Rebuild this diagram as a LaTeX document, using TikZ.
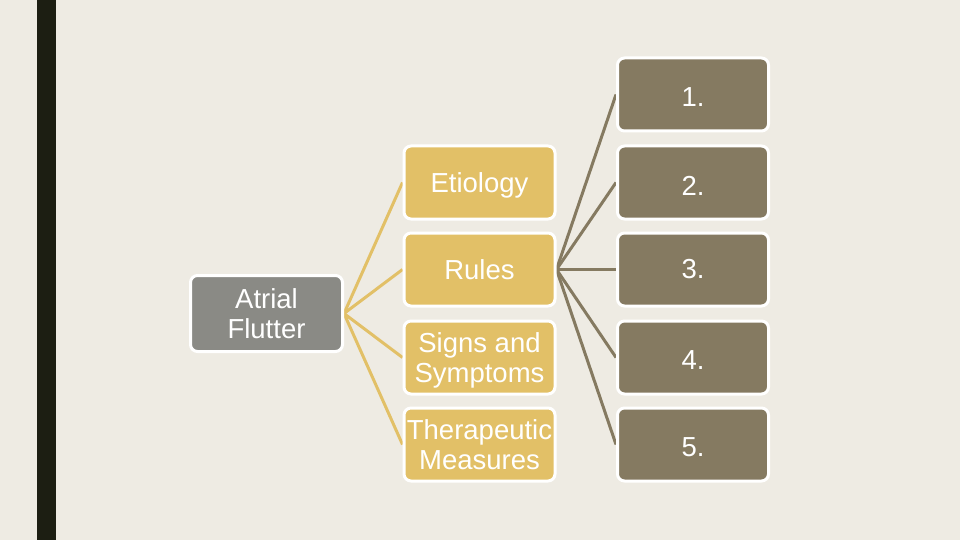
\documentclass[tikz,border=0pt]{standalone}
\usepackage{fontspec}
\setmainfont{Liberation Sans}
\usetikzlibrary{backgrounds}
\definecolor{bgc}{HTML}{EEEBE3}
\definecolor{barc}{HTML}{1C1E12}
\definecolor{yelc}{HTML}{E2C067}
\definecolor{brnc}{HTML}{857A61}
\definecolor{gryc}{HTML}{8A8A85}
\newcommand{\dnshift}[1]{\raisebox{-3pt}[\height][\depth]{#1}}
\tikzset{
  box/.style={draw=white, line width=3pt, rounded corners=7pt, minimum width=151pt, minimum height=73pt,
    inner sep=0pt, align=center, text=white, font=\fontsize{27.5}{30}\selectfont},
  rootbox/.style={box, fill=gryc},
  ybox/.style={box, fill=yelc},
  bbox/.style={box, fill=brnc},
  ylink/.style={draw=yelc, line width=3pt},
  blink/.style={draw=brnc, line width=3pt}
}
\begin{document}
\begin{tikzpicture}[x=1pt,y=-1pt]
\useasboundingbox (0,0) rectangle (960,540);

\node[rootbox, minimum width=152pt, minimum height=76pt] (af) at (266.5,313.5) {Atrial\\Flutter};

\node[ybox] (et) at (479.5,182.5) {\dnshift{Etiology}};
\node[ybox] (ru) at (479.5,269.5) {Rules};
\node[ybox] (ss) at (479.5,357.5) {\dnshift{Signs and}\\\dnshift{Symptoms}};
\node[ybox] (tm) at (479.5,444.5) {Therapeutic\\Measures};

\node[bbox] (n1) at (693,94.5) {\dnshift{1.}};
\node[bbox] (n2) at (693,182.5) {\dnshift{2.}};
\node[bbox] (n3) at (693,269.5) {3.};
\node[bbox] (n4) at (693,357.5) {\dnshift{4.}};
\node[bbox] (n5) at (693,444.5) {\dnshift{5.}};

\begin{scope}[on background layer]
\fill[bgc] (0,0) rectangle (960,540);
\fill[barc] (37,0) rectangle (56,540);
\foreach \t in {et,ru,ss,tm} \draw[ylink] (af.east) -- (\t.west);
\foreach \t in {n1,n2,n3,n4,n5} \draw[blink] (ru.east) -- (\t.west);
\end{scope}
\end{tikzpicture}
\end{document}
